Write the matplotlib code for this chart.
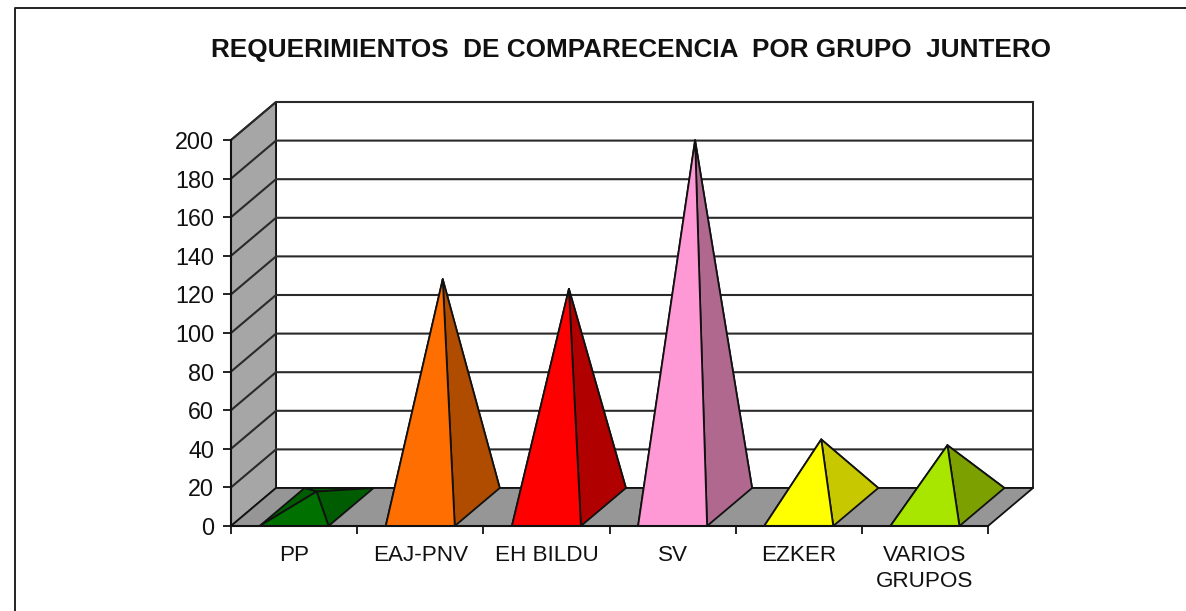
import matplotlib
matplotlib.use("Agg")
import matplotlib.pyplot as plt
from matplotlib.lines import Line2D
from matplotlib.patches import Polygon

plt.rcParams['font.family'] = ['Liberation Sans', 'DejaVu Sans']

TITLE = "REQUERIMIENTOS  DE COMPARECENCIA  POR GRUPO  JUNTERO"
groups = ["PP", "EAJ-PNV", "EH BILDU", "SV", "EZKER", "VARIOS\nGRUPOS"]
values = [8, 118, 113, 190, 35, 32]
front_colors = ["#007000", "#FF6E00", "#FF0000", "#FF99D6", "#FFFF00", "#A8E600"]
side_colors = ["#005C00", "#B04C00", "#B00000", "#B0688F", "#C8C800", "#7BA000"]
yticks = list(range(0, 201, 20))

W, H = 1186, 611
# depth of the fake 3d box, in data units
DX = 45 / 126.17
DY = 38 / 1.93
BASE = 0.547  # pyramid base width, share of a category

fig = plt.figure(figsize=(W / 100, H / 100), dpi=100)
ax = fig.add_axes([231 / W, 1 - 526 / H, 757 / W, 386 / H])
ax.set_xlim(0, len(groups))
ax.set_ylim(0, 200)
ax.patch.set_visible(False)
for s in ["top", "right"]:
    ax.spines[s].set_visible(False)
for s in ["left", "bottom"]:
    ax.spines[s].set_linewidth(1.5)
    ax.spines[s].set_color("#111111")
    ax.spines[s].set_zorder(6)


def poly(points, color, z, edge="#111111", lw=1.3):
    ax.add_patch(Polygon(points, closed=True, facecolor=color, edgecolor=edge,
                         linewidth=lw, zorder=z, clip_on=False, joinstyle="round"))


top = 200
# walls and floor
poly([(DX, DY), (len(groups) + DX, DY), (len(groups) + DX, top + DY), (DX, top + DY)], "white", 1)
poly([(0, 0), (DX, DY), (DX, top + DY), (0, top)], "#A6A6A6", 1)
poly([(0, 0), (len(groups), 0), (len(groups) + DX, DY), (DX, DY)], "#969696", 1)

# gridlines, back wall and left wall
for v in yticks[1:]:
    ax.plot([0, DX, len(groups) + DX], [v, v + DY, v + DY], color="#2A2A2A", lw=1.5,
            clip_on=False, zorder=2)

for i, (v, fc, sc) in enumerate(zip(values, front_colors, side_colors)):
    cx = i + 0.5
    fl = (cx - BASE / 2, 0)
    fr = (cx + BASE / 2, 0)
    bl = (fl[0] + DX, DY)
    br = (fr[0] + DX, DY)
    apex = (cx + DX / 2, DY / 2 + v)
    poly([bl, br, apex], sc, 3)
    poly([fl, bl, apex], sc, 3)
    poly([fr, br, apex], sc, 4)
    poly([fl, fr, apex], fc, 5)

ax.set_yticks(yticks)
ax.set_xticks(range(len(groups) + 1))
ax.set_xticklabels([])
ax.set_xticks([i + 0.5 for i in range(len(groups))], minor=True)
ax.set_xticklabels(groups, minor=True, fontsize=16.2, color="#111111", linespacing=1.28)
ax.tick_params(axis="x", which="minor", length=0, pad=14)
ax.tick_params(axis="x", which="major", length=5.5, width=1.3, color="#111111")
ax.tick_params(axis="y", length=5.5, width=1.3, color="#111111", labelsize=16.8,
               labelcolor="#111111", pad=6.5)

fig.text(631 / W, 1 - 50 / H, TITLE, ha="center", va="center", fontsize=18.8,
         fontweight="bold", color="#111111")

# outer frame, only top and left show in the picture
frame_x = [15 / W, 15 / W, 1]
frame_y = [0, 1 - 7.5 / H, 1 - 7.5 / H]
fig.add_artist(Line2D(frame_x, frame_y, transform=fig.transFigure, color="#222222", linewidth=1.4))

fig.savefig("out.png", dpi=100)
